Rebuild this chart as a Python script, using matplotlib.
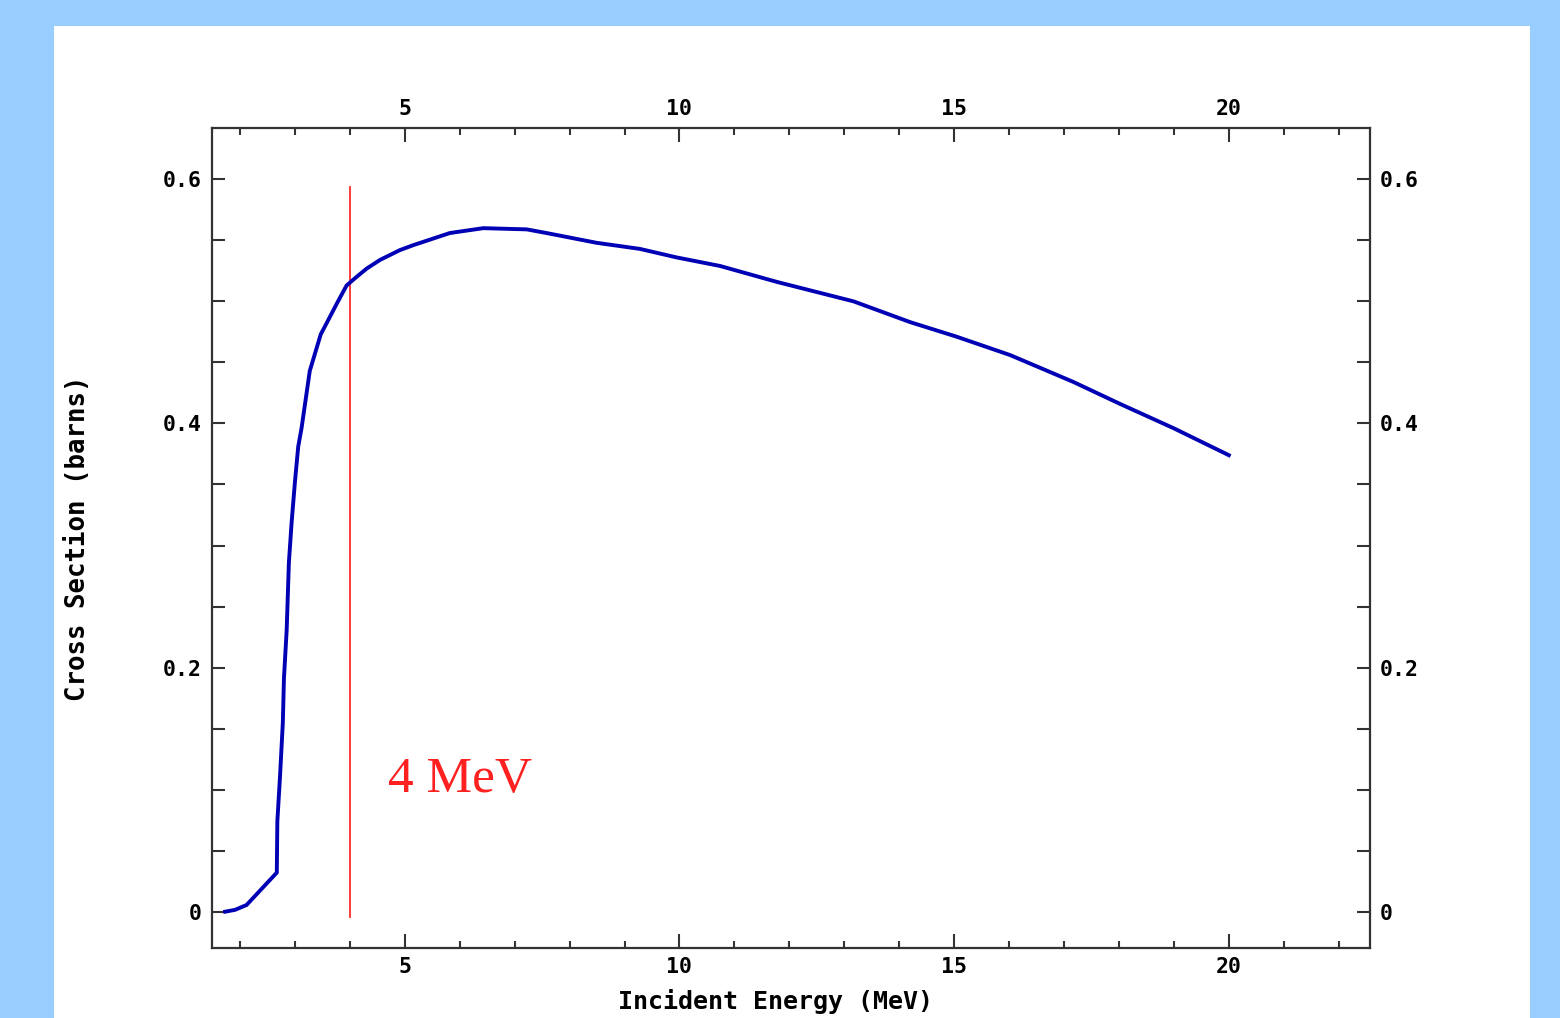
import matplotlib
matplotlib.use("Agg")
import matplotlib.pyplot as plt
from matplotlib.patches import Rectangle
from matplotlib.ticker import MultipleLocator, FixedLocator

# ---- data ----
energy = [1.73, 1.91, 2.12, 2.67, 2.68, 2.73, 2.78, 2.80, 2.85, 2.89, 2.94, 3.00,
          3.06, 3.12, 3.20, 3.27, 3.37, 3.47, 3.61, 3.76, 3.94, 4.12, 4.31, 4.55,
          4.91, 5.15, 5.82, 6.43, 7.22, 7.58, 8.49, 9.28, 9.95, 10.74, 11.77,
          13.17, 14.20, 15.05, 16.02, 17.17, 18.02, 19.00, 20.00]
xsec = [0.000, 0.0015, 0.0055, 0.032, 0.074, 0.112, 0.155, 0.191, 0.231, 0.286,
        0.319, 0.352, 0.381, 0.396, 0.421, 0.443, 0.458, 0.473, 0.485, 0.498,
        0.513, 0.520, 0.527, 0.534, 0.542, 0.546, 0.556, 0.560, 0.559, 0.556,
        0.548, 0.543, 0.536, 0.529, 0.516, 0.500, 0.483, 0.471, 0.456, 0.434,
        0.416, 0.396, 0.374]
marker_energy = 4.0
marker_span = [-0.004, 0.594]
marker_label = "4 MeV"
x_major = [5, 10, 15, 20]
y_major = [0, 0.2, 0.4, 0.6]
y_labels = ["0", "0.2", "0.4", "0.6"]
xlabel = "Incident Energy (MeV)"
ylabel = "Cross Section (barns)"

W, H = 1560, 1018
fig = plt.figure(figsize=(W / 100, H / 100), dpi=100, facecolor="#99CCFF")
fig.patches.append(Rectangle((54 / W, 0), (1530 - 54) / W, (H - 26) / H,
                             transform=fig.transFigure, facecolor="white",
                             edgecolor="none", zorder=-10))

ax = fig.add_axes([211.7 / W, (H - 948.3) / H, (1370 - 211.7) / W, (948.3 - 127.7) / H])
ax.set_zorder(5)
ax.set_facecolor("white")

ax.plot(energy, xsec, color="#0000B4", lw=2.8, solid_joinstyle="miter", zorder=3)
ax.plot([marker_energy, marker_energy], marker_span, color="#FF2A2A", lw=1.3, zorder=2)
ax.text(4.69, 0.098, marker_label, color="#FF2020", fontsize=37,
        family=["Liberation Serif", "DejaVu Serif"], va="baseline", ha="left")

ax.set_xlim(1.485, 22.57)
ax.set_ylim(-0.030, 0.6423)

ax.xaxis.set_major_locator(FixedLocator(x_major))
ax.xaxis.set_minor_locator(MultipleLocator(1))
ax.yaxis.set_major_locator(FixedLocator(y_major))
ax.yaxis.set_minor_locator(MultipleLocator(0.05))
ax.set_yticklabels(y_labels)

for s in ax.spines.values():
    s.set_linewidth(1.6)
    s.set_color("#333333")

ax.tick_params(axis="both", which="both", direction="in", top=True, right=True,
               color="#333333", width=1.5)
ax.tick_params(axis="x", which="major", length=10, labeltop=True, labelbottom=True, pad=6)
ax.tick_params(axis="x", which="minor", length=5)
ax.tick_params(axis="y", which="both", length=9.5, labelleft=True, labelright=True, pad=7)

mono = ["DejaVu Sans Mono"]
for lab in ax.get_xticklabels() + ax.get_yticklabels():
    lab.set_family(mono)
    lab.set_fontweight("bold")
    lab.set_fontsize(15.5)

ax.set_xlabel(xlabel, family=mono, fontweight="bold", fontsize=18, labelpad=9)
ax.xaxis.label.set_x(0.487)
ax.set_ylabel(ylabel, family=mono, fontweight="bold", fontsize=18.5, labelpad=52)

fig.savefig("out.png", dpi=100, facecolor=fig.get_facecolor())
